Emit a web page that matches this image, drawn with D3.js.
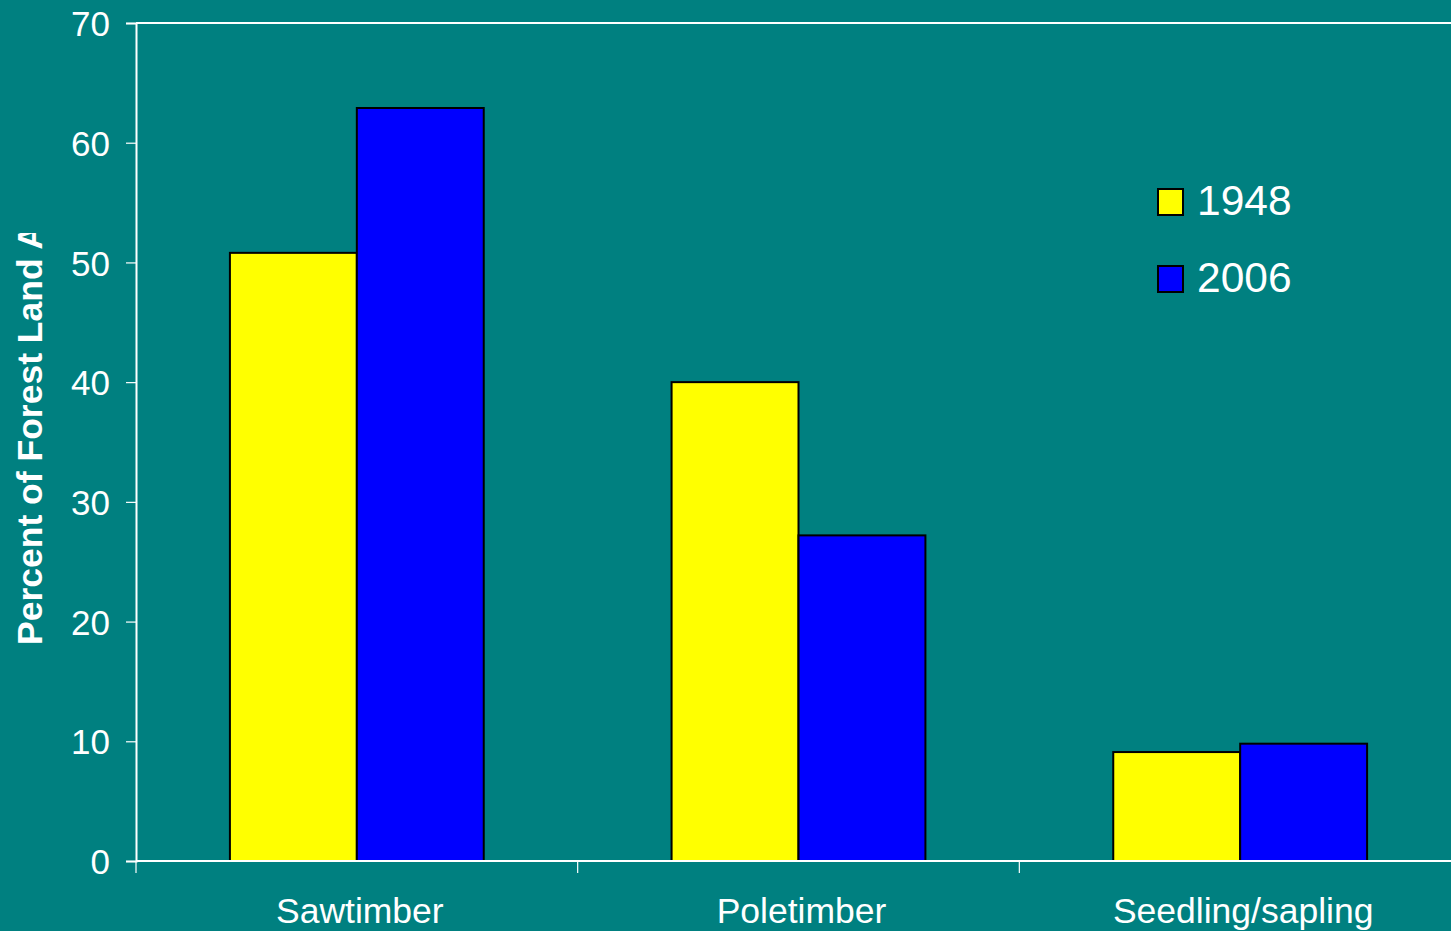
<!DOCTYPE html>
<html>
<head>
<meta charset="utf-8">
<script src="https://cdn.jsdelivr.net/npm/d3@7"></script>
<style>
  html, body { margin: 0; padding: 0; background: #008080; overflow: hidden; }
  svg { display: block; }
  text { font-family: "Liberation Sans", Arial, sans-serif; fill: #ffffff; }
</style>
</head>
<body>
<svg id="chart" width="1451" height="931"></svg>
<script>
// Forest land by stand-size class
const categories = ["Sawtimber", "Poletimber", "Seedling/sapling"];
const seriesNames = ["1948", "2006"];
const values1948 = [50.8, 40.0, 9.1];
const values2006 = [62.9, 27.2, 9.8];
const yTicks = [0, 10, 20, 30, 40, 50, 60, 70];
const yTitle = "Percent of Forest Land Area";
const colors = { "1948": "#ffff00", "2006": "#0000ff" };

const rows = categories.map((c, i) => ({ cat: c, "1948": values1948[i], "2006": values2006[i] }));

const W = 1451, H = 931;
const plot = { left: 136, right: 1461, top: 23, bottom: 861 };

const svg = d3.select("#chart");
svg.append("rect").attr("width", W).attr("height", H).attr("fill", "#008080");

const x0 = d3.scaleBand().domain(categories).range([plot.left, plot.right]).paddingInner(0).paddingOuter(0);
const x1 = d3.scaleBand().domain(seriesNames).range([0, x0.bandwidth()]).paddingInner(0).paddingOuter(0.74);
const y = d3.scaleLinear().domain([0, 70]).range([plot.bottom, plot.top]);

// Bars
const groups = svg.append("g").selectAll("g").data(rows).join("g")
  .attr("transform", d => `translate(${x0(d.cat)},0)`);
groups.selectAll("rect").data(d => seriesNames.map(s => ({ s, v: d[s] }))).join("rect")
  .attr("x", d => x1(d.s))
  .attr("y", d => y(d.v))
  .attr("width", x1.bandwidth())
  .attr("height", d => y(0) - y(d.v))
  .attr("fill", d => colors[d.s])
  .attr("stroke", "#000")
  .attr("stroke-width", 2);

// Plot border (top)
svg.append("line").attr("x1", plot.left).attr("x2", plot.right).attr("y1", plot.top).attr("y2", plot.top)
  .attr("stroke", "#fff").attr("stroke-width", 2);

// Y axis
const yAxis = d3.axisLeft(y).tickValues(yTicks).tickSize(10).tickPadding(16).tickFormat(d3.format("d"));
const gy = svg.append("g").attr("transform", `translate(${plot.left},0)`).call(yAxis);
gy.select(".domain").attr("stroke", "#fff").attr("stroke-width", 2);
gy.selectAll(".tick line").attr("stroke", "#fff").attr("stroke-width", 1.2);
gy.selectAll(".tick text").attr("font-size", 35).attr("fill", "#fff")
  .attr("font-family", "Liberation Sans, Arial, sans-serif").attr("dy", "0.36em");

// X axis with boundary ticks between categories
const xAxisG = svg.append("g").attr("transform", `translate(0,${plot.bottom})`);
xAxisG.append("line").attr("x1", plot.left).attr("x2", plot.right).attr("y1", 0).attr("y2", 0)
  .attr("stroke", "#fff").attr("stroke-width", 2);
const boundaries = categories.map(c => x0(c)).concat([plot.right]);
xAxisG.selectAll("line.tk").data(boundaries).join("line").attr("class", "tk")
  .attr("x1", d => d).attr("x2", d => d).attr("y1", 0).attr("y2", 12)
  .attr("stroke", "#fff").attr("stroke-width", 1.2);
xAxisG.selectAll("text").data(categories).join("text")
  .attr("x", d => x0(d) + x0.bandwidth() / 2 + 3)
  .attr("y", 62)
  .attr("text-anchor", "middle")
  .attr("font-size", 35.5)
  .text(d => d);

// Y axis title (clipped at the top)
svg.append("clipPath").attr("id", "titleClip")
  .append("rect").attr("x", 0).attr("y", 233).attr("width", 120).attr("height", H - 233);
svg.append("g").attr("clip-path", "url(#titleClip)")
  .append("text")
  .attr("transform", "translate(42,645) rotate(-90)")
  .attr("font-size", 35.5)
  .attr("font-weight", "bold")
  .text(yTitle);

// Legend
const legend = svg.append("g");
const legendRows = seriesNames.map((s, i) => ({ s, y: 189 + i * 77 }));
legend.selectAll("rect").data(legendRows).join("rect")
  .attr("x", 1158).attr("y", d => d.y).attr("width", 25).attr("height", 26)
  .attr("fill", d => colors[d.s]).attr("stroke", "#000").attr("stroke-width", 2);
legend.selectAll("text").data(legendRows).join("text")
  .attr("x", 1197).attr("y", d => d.y + 26)
  .attr("font-size", 42.5)
  .text(d => d.s);
</script>
</body>
</html>
